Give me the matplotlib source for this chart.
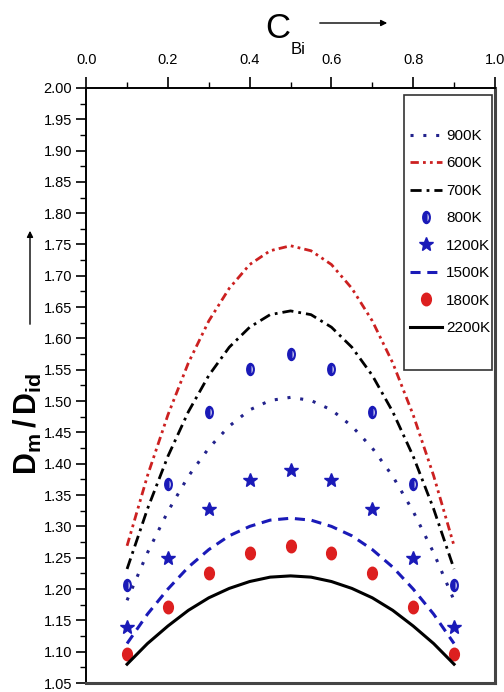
import matplotlib.pyplot as plt
from matplotlib.markers import MarkerStyle
from matplotlib.transforms import Affine2D
from matplotlib.patches import Rectangle

plt.rcParams['font.family'] = ['Liberation Sans', 'DejaVu Sans']
plt.rcParams['mathtext.fontset'] = 'custom'
plt.rcParams['mathtext.rm'] = 'Liberation Sans'
plt.rcParams['mathtext.bf'] = 'Liberation Sans:bold'

# concentration of Bi (lines read at 0.05 steps, symbols at 0.1 steps)
x_line = [0.10, 0.15, 0.20, 0.25, 0.30, 0.35, 0.40, 0.45, 0.50,
          0.55, 0.60, 0.65, 0.70, 0.75, 0.80, 0.85, 0.90]
x_pts = [0.1, 0.2, 0.3, 0.4, 0.5, 0.6, 0.7, 0.8, 0.9]

d_900 = [1.182, 1.258, 1.324, 1.380, 1.425, 1.460, 1.486, 1.501, 1.506,
         1.501, 1.486, 1.460, 1.425, 1.380, 1.324, 1.258, 1.182]
d_600 = [1.269, 1.381, 1.478, 1.561, 1.628, 1.680, 1.718, 1.740, 1.748,
         1.740, 1.718, 1.680, 1.628, 1.561, 1.478, 1.381, 1.269]
d_700 = [1.232, 1.328, 1.412, 1.483, 1.541, 1.586, 1.618, 1.638, 1.644,
         1.638, 1.618, 1.586, 1.541, 1.483, 1.412, 1.328, 1.232]
d_800 = [1.207, 1.368, 1.483, 1.552, 1.575, 1.552, 1.483, 1.368, 1.207]
d_1200 = [1.140, 1.250, 1.328, 1.374, 1.390, 1.374, 1.328, 1.250, 1.140]
d_1500 = [1.113, 1.160, 1.200, 1.235, 1.263, 1.285, 1.300, 1.310, 1.313,
          1.310, 1.300, 1.285, 1.263, 1.235, 1.200, 1.160, 1.113]
d_1800 = [1.097, 1.171, 1.225, 1.257, 1.268, 1.257, 1.225, 1.171, 1.097]
d_2200 = [1.080, 1.113, 1.141, 1.166, 1.186, 1.201, 1.212, 1.219, 1.221,
          1.219, 1.212, 1.201, 1.186, 1.166, 1.141, 1.113, 1.080]

x_ticks = [0.0, 0.2, 0.4, 0.6, 0.8, 1.0]
y_ticks = [1.05 + 0.05 * i for i in range(20)]

blue = '#1a1ab8'
red = '#dd1f1f'

fig = plt.figure(figsize=(5.04, 6.92), dpi=100)
ax = fig.add_axes([0.171, 0.013, 0.811, 0.860])

ax.plot(x_line, d_900, color='#22228c', lw=2.2, linestyle=(0, (1, 3.2)), label='900K')
ax.plot(x_line, d_600, color='#cc2020', lw=2.0, linestyle=(0, (3, 1.5, 1, 1.5, 1, 1.5)), label='600K')
ax.plot(x_line, d_700, color='black', lw=2.0, linestyle=(0, (4, 1.8, 1, 1.8)), label='700K')

ring = MarkerStyle('o', fillstyle='left', transform=Affine2D().scale(0.6, 1.0))
ax.plot(x_pts, d_800, linestyle='none', marker=ring, markersize=8, color=blue,
        markerfacecoloralt='white', markeredgewidth=1.6, label='800K')
ax.plot(x_pts, d_1200, linestyle='none', marker='*', markersize=10, color=blue, label='1200K')
ax.plot(x_line, d_1500, color=blue, lw=2.2, linestyle=(0, (3.3, 2.2)), label='1500K')
dot = MarkerStyle('o', transform=Affine2D().scale(0.78, 1.0))
ax.plot(x_pts, d_1800, linestyle='none', marker=dot, markersize=9, color=red, label='1800K')
ax.plot(x_line, d_2200, color='black', lw=2.2, label='2200K')

ax.set_xlim(0, 1)
ax.set_ylim(1.05, 2.00)
ax.set_xticks(x_ticks)
ax.set_xticks([0.1, 0.3, 0.5, 0.7, 0.9], minor=True)
ax.set_xticklabels([f'{t:.1f}' for t in x_ticks])
ax.set_yticks(y_ticks)
ax.set_yticks([1.075 + 0.05 * i for i in range(19)], minor=True)
ax.set_yticklabels([f'{t:.2f}' for t in y_ticks])
ax.xaxis.tick_top()
ax.tick_params(axis='x', which='major', direction='out', length=8, width=1.2,
               labelsize=10.5, pad=7, top=True, bottom=False)
ax.tick_params(axis='x', which='minor', direction='out', length=4, width=1.0, top=True, bottom=False)
ax.tick_params(axis='y', which='major', direction='out', length=7, width=1.2,
               labelsize=10.5, pad=3, left=True, right=False)
ax.tick_params(axis='y', which='minor', direction='out', length=4, width=1.0, left=True, right=False)
for side in ['left', 'top']:
    ax.spines[side].set_linewidth(1.4)
for side in ['right', 'bottom']:
    ax.spines[side].set_linewidth(2.2)
    ax.spines[side].set_color('#444444')

# legend frame and entries
ax.add_patch(Rectangle((0.778, 0.526), 0.215, 0.462, transform=ax.transAxes,
                       fill=False, edgecolor='#333333', lw=1.2, zorder=5))
ax.legend(loc='upper left', bbox_to_anchor=(410 / 504, 1 - 129 / 692),
          bbox_transform=fig.transFigure, frameon=False, borderpad=0, borderaxespad=0,
          fontsize=11, handlelength=2.1, handletextpad=0.25, labelspacing=0.88,
          numpoints=1)

# axis titles with arrows
fig.text(265 / 504, 1 - 38 / 692, 'C', fontsize=25, ha='left', va='baseline')
fig.text(291 / 504, 1 - 54 / 692, 'Bi', fontsize=12, ha='left', va='baseline')
fig.add_artist(plt.Annotation('', xy=(390 / 504, 1 - 23 / 692), xytext=(317 / 504, 1 - 23 / 692),
                              xycoords='figure fraction', textcoords='figure fraction',
                              arrowprops=dict(arrowstyle='-|>', color='black', lw=1.0,
                                              mutation_scale=9)))
fig.text(28 / 504, 1 - 424 / 692, r'$\mathbf{D_m\,/\,D_{id}}$', fontsize=22,
         rotation=90, ha='center', va='center')
fig.add_artist(plt.Annotation('', xy=(30 / 504, 1 - 228 / 692), xytext=(30 / 504, 1 - 327 / 692),
                              xycoords='figure fraction', textcoords='figure fraction',
                              arrowprops=dict(arrowstyle='-|>', color='black', lw=1.0,
                                              mutation_scale=9)))

fig.savefig('out.png', dpi=100)
